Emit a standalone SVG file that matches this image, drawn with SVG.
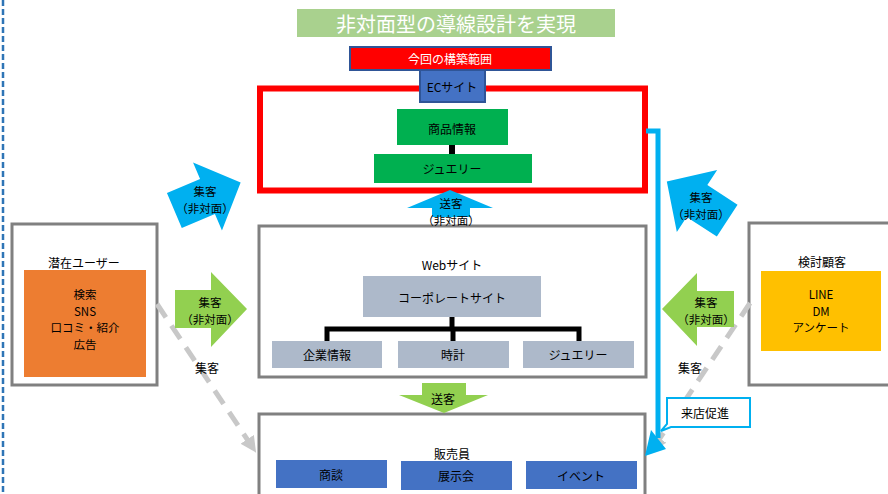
<svg xmlns="http://www.w3.org/2000/svg" width="888" height="494" viewBox="0 0 888 494">
<style>
text{font-family:"Noto Sans CJK JP","Noto Sans",sans-serif;font-size:12px;fill:#000;text-anchor:middle;dominant-baseline:central}
text.s{font-size:11.5px}
.frame{fill:#fff;stroke:#808080;stroke-width:3}
.grey{fill:#ADB9CA}
.blue{fill:#4472C4}
.green{fill:#00B050}
.garrow{fill:#92D050}
.barrow{fill:#00B0F0}
.tree{stroke:#000;stroke-width:5;fill:none}
.dash{stroke:#C8C8C8;stroke-width:5;stroke-dasharray:16 10;fill:none}
</style>
<defs>
<marker id="gh" markerUnits="userSpaceOnUse" markerWidth="20" markerHeight="20" refX="14" refY="8" orient="auto"><path d="M0,0 L16,8 L0,16 z" fill="#C8C8C8"/></marker>
</defs>
<rect width="888" height="494" fill="#fff"/>
<line x1="3" y1="0" x2="3" y2="494" stroke="#2E75B6" stroke-width="2.5" stroke-dasharray="6 3"/>

<g id="title">
<rect x="297" y="9" width="318" height="28" fill="#A9D18E"/>
<text x="456" y="23" style="font-size:20px;fill:#fff">非対面型の導線設計を実現</text>
</g>

<g id="scope-label">
<rect x="350" y="47" width="201" height="23" fill="#FF0000" stroke="#2F5597" stroke-width="2"/>
<text x="450" y="58.5" style="fill:#fff">今回の構築範囲</text>
</g>

<g id="ec-frame">
<rect x="260" y="88.5" width="385" height="102" fill="none" stroke="#FF0000" stroke-width="6"/>
</g>
<g id="ec-site">
<rect x="420" y="70" width="65" height="32" class="blue" stroke="#2F5597" stroke-width="2"/>
<text x="452" y="86">ECサイト</text>
</g>
<g id="ec-product">
<rect x="397" y="109" width="111" height="36" class="green"/>
<text x="452" y="128">商品情報</text>
</g>
<g id="ec-jewelry">
<rect x="374" y="154" width="158" height="29" class="green"/>
<text x="452" y="168.5">ジュエリー</text>
</g>

<g id="web-frame">
<rect x="259" y="226" width="387" height="151" class="frame"/>
<text x="452" y="264">Webサイト</text>
</g>
<g id="web-corporate">
<rect x="363" y="276" width="178" height="41" class="grey"/>
<text x="452" y="297">コーポレートサイト</text>
</g>
<g id="web-company">
<rect x="272" y="341" width="110" height="27" class="grey"/>
<text x="327" y="354.5">企業情報</text>
</g>
<g id="web-watch">
<rect x="398" y="341" width="111" height="27" class="grey"/>
<text x="453" y="354.5">時計</text>
</g>
<g id="web-jewelry">
<rect x="523" y="341" width="111" height="27" class="grey"/>
<text x="578" y="354.5">ジュエリー</text>
</g>

<g id="potential-users">
<rect x="12" y="224" width="145" height="161" class="frame"/>
<text x="84" y="262">潜在ユーザー</text>
<rect x="24" y="270" width="122" height="107" fill="#ED7D31"/>
<text class="s" x="85" y="294">検索</text>
<text class="s" x="85" y="310.5">SNS</text>
<text class="s" x="85" y="327">口コミ・紹介</text>
<text class="s" x="85" y="343.5">広告</text>
</g>

<g id="considering-customers">
<rect x="749" y="223" width="145" height="162" class="frame"/>
<text x="822" y="261">検討顧客</text>
<rect x="761" y="271" width="120" height="80" fill="#FFC000"/>
<text class="s" x="821" y="294">LINE</text>
<text class="s" x="821" y="310.5">DM</text>
<text class="s" x="821" y="327">アンケート</text>
</g>

<g id="sales-staff">
<rect x="259" y="414" width="386" height="90" class="frame"/>
<text x="452" y="453">販売員</text>
<rect x="276" y="460" width="111" height="28" class="blue"/>
<text x="331" y="474">商談</text>
<rect x="401" y="461" width="111" height="29" class="blue"/>
<text x="456" y="475.5">展示会</text>
<rect x="526" y="461" width="111" height="28" class="blue"/>
<text x="581" y="475">イベント</text>
</g>

<g id="connectors">
<line x1="452" y1="145" x2="452" y2="154" stroke="#000" stroke-width="6"/>
<polyline class="tree" points="452,317 452,329"/>
<polyline class="tree" points="327,341 327,329 579,329 579,341"/>
<line class="tree" x1="453" y1="329" x2="453" y2="341"/>

<line class="dash" x1="157" y1="304" x2="255" y2="451" marker-end="url(#gh)"/>
<line class="dash" x1="750" y1="303" x2="652" y2="450" marker-end="url(#gh)"/>

<polyline points="646,131 658,131 658,438" fill="none" stroke="#00B0F0" stroke-width="5"/>
<polygon points="645,456 651,430 666,449" fill="#00B0F0"/>

<polygon class="barrow" points="-36,-19 0,-19 0,-37 36,0 0,37 0,19 -36,19" transform="translate(207.5,196.5) rotate(-23)"/>
<text class="s" x="205" y="191">集客</text>
<text class="s" x="205" y="208">（非対面）</text>

<polygon class="barrow" points="-36,-19 0,-19 0,-37 36,0 0,37 0,19 -36,19" transform="translate(697,201) rotate(-147)"/>
<text class="s" x="701" y="197">集客</text>
<text class="s" x="701" y="214">（非対面）</text>

<polygon class="barrow" points="450,190 493,208 470,208 470,217 432,217 432,208 407,208"/>
<text class="s" x="451" y="203">送客</text>
<text class="s" x="451" y="220">（非対面）</text>

<polygon class="garrow" points="175,290 211,290 211,272 247,309 211,347 211,328 175,328"/>
<text class="s" x="210" y="302">集客</text>
<text class="s" x="210" y="319">（非対面）</text>

<polygon class="garrow" points="734,291 697,291 697,273 662,309 697,346 697,327 734,327"/>
<text class="s" x="706" y="302">集客</text>
<text class="s" x="706" y="319">（非対面）</text>

<polygon class="garrow" points="422,383 466,383 466,395 488,395 444,413 399,395 422,395"/>
<text x="443" y="398">送客</text>

<text x="207" y="367">集客</text>
<text x="690" y="367">集客</text>
</g>

<g id="visit-promotion">
<path d="M667,398 H750 V427 H671 L661,431 L667,424 Z" fill="#fff" stroke="#00B0F0" stroke-width="2"/>
<text x="705" y="412">来店促進</text>
</g>
</svg>
